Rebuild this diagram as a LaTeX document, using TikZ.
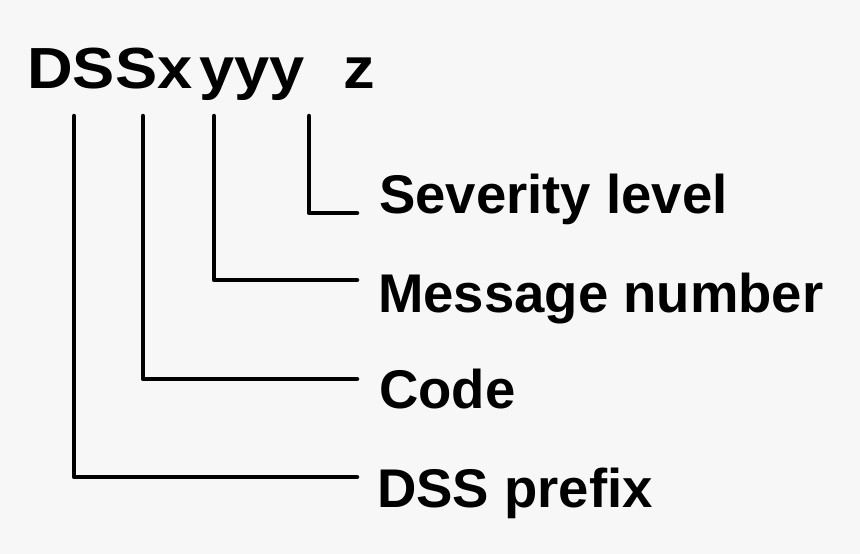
\documentclass[tikz,border=0pt]{standalone}
\usepackage{fontspec}
\setmainfont{Liberation Sans}
\newfontfamily\wideface[FakeStretch=1.09]{Liberation Sans}
\usetikzlibrary{positioning, calc}
\definecolor{msgBack}{HTML}{F7F7F7}

\begin{document}
\begin{tikzpicture}[
  x=1pt, y=-1pt,
  head/.style={inner sep=0pt, anchor=base west, font=\wideface\fontsize{58}{60}\selectfont\bfseries},
  lbl/.style={inner sep=0pt, anchor=base west, font=\fontsize{54.5}{56}\selectfont\bfseries},
  bracket/.style={line width=4.5pt, line cap=round, line join=round}
]
\fill[msgBack] (0,0) rectangle (860,554);
\useasboundingbox (0,0) rectangle (860,554);

% message id
\node[head] (dss) at (27,88) {DSSx};
\node[head] (yyy) at (199,88) {yyy};
\node[head] (zz) at (343,88) {z};

% meanings
\node[lbl] (sev) at (379,213) {Severity level};
\node[lbl] (num) at (378,312) {Message number};
\node[lbl] (code) at (379,408) {Code};
\node[lbl] (pfx) at (377,507) {DSS prefix};

% line ends
\coordinate (tD) at (74,116);
\coordinate (tS) at (143,116);
\coordinate (tY) at (214,116);
\coordinate (tZ) at (309,116);
\coordinate (eZ) at (357,213);
\coordinate (eY) at (357,280);
\coordinate (eS) at (357,379);
\coordinate (eD) at (357,477);

\draw[bracket] (tZ) |- (eZ);
\draw[bracket] (tY) |- (eY);
\draw[bracket] (tS) |- (eS);
\draw[bracket] (tD) |- (eD);
\end{tikzpicture}
\end{document}
